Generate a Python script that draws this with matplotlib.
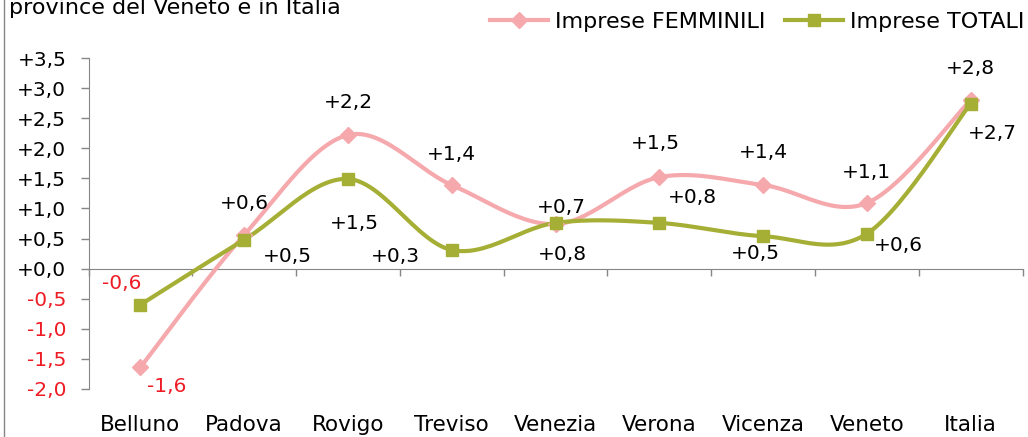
import numpy as np
import matplotlib
matplotlib.use("Agg")
import matplotlib.pyplot as plt
from matplotlib.lines import Line2D
import matplotlib.transforms as mtransforms

# data
categories = ['Belluno', 'Padova', 'Rovigo', 'Treviso', 'Venezia',
              'Verona', 'Vicenza', 'Veneto', 'Italia']
femminili = [-1.64, 0.56, 2.22, 1.39, 0.74, 1.52, 1.39, 1.09, 2.80]
totali = [-0.60, 0.48, 1.49, 0.31, 0.76, 0.76, 0.54, 0.58, 2.74]
yticks = [-2.0, -1.5, -1.0, -0.5, 0.0, 0.5, 1.0, 1.5, 2.0, 2.5, 3.0, 3.5]

COLORS = {
    'fem': '#F5A9AD',
    'tot': '#A6AF35',
    'axis': '#868686',
    'neg': '#EE1C25',
}

# label offsets in pixels (dx, dy; dy positive = up)
fem_offsets = [(26, -19), (0, 31), (0, 33), (0, 30), (6, 17),
               (-4, 34), (0, 32), (0, 31), (0, 32)]
tot_offsets = [(-19, 21), (43, -17), (6, -45), (-56, -7), (7, -32),
               (33, 25), (-8, -17), (32, -12), (22, -30)]

FS = 14.5
plt.rcParams['font.family'] = ['DejaVu Sans']


def smooth(xs, ys, n=30):
    """Excel-like smoothed line (Catmull-Rom as Bezier)."""
    P = np.column_stack([xs, ys]).astype(float)
    ext = np.vstack([P[0], P, P[-1]])
    out = []
    t = np.linspace(0, 1, n)[:, None]
    for i in range(len(P) - 1):
        p0, p3 = ext[i + 1], ext[i + 2]
        c1 = p0 + (ext[i + 2] - ext[i]) / 6
        c2 = p3 - (ext[i + 3] - ext[i + 1]) / 6
        seg = ((1 - t) ** 3) * p0 + 3 * ((1 - t) ** 2) * t * c1 + 3 * (1 - t) * t ** 2 * c2 + t ** 3 * p3
        out.append(seg if i == 0 else seg[1:])
    out = np.vstack(out)
    return out[:, 0], out[:, 1]


def fmt(v):
    return ('%+.1f' % v).replace('.', ',')


fig = plt.figure(figsize=(10.28, 4.37), dpi=100)
W, H = 1028, 437
ax = fig.add_axes([88.5 / W, 1 - 389 / H, (1022.5 - 88.5) / W, (389 - 58) / H])

x = np.arange(len(categories))
for vals, key, marker, ms, offs in [
        (femminili, 'fem', 'D', 8, fem_offsets),
        (totali, 'tot', 's', 9, tot_offsets)]:
    sx, sy = smooth(x, vals)
    ax.plot(sx, sy, color=COLORS[key], lw=3, solid_capstyle='round', zorder=3)
    ax.plot(x, vals, ls='none', marker=marker, ms=ms, color=COLORS[key], zorder=4)
    for xi, v, (dx, dy) in zip(x, vals, offs):
        ax.annotate(fmt(v), (xi, v), xytext=(dx * 0.72, dy * 0.72), textcoords='offset points',
                    ha='center', va='center', fontsize=FS,
                    color=COLORS['neg'] if v < 0 else 'black', zorder=5)

ax.set_xlim(-0.5, len(categories) - 0.5)
ax.set_ylim(-2.0, 3.5)
ax.set_yticks(yticks)
ax.set_yticklabels([fmt(v) for v in yticks], fontsize=FS)
for lab, v in zip(ax.get_yticklabels(), yticks):
    if v < 0:
        lab.set_color(COLORS['neg'])

ax.set_xticks(np.arange(-0.5, len(categories), 1.0))
ax.set_xticklabels([])
ax.tick_params(axis='y', length=6, width=1, color=COLORS['axis'], pad=10)
ax.tick_params(axis='x', length=5, width=1, color=COLORS['axis'])

for s in ['top', 'right']:
    ax.spines[s].set_visible(False)
ax.spines['left'].set_color(COLORS['axis'])
ax.spines['bottom'].set_color(COLORS['axis'])
ax.spines['bottom'].set_position(('data', 0))

trans = mtransforms.blended_transform_factory(ax.transData, ax.transAxes)
for xi, name in zip(x, categories):
    ax.text(xi, -0.109, name, transform=trans, ha='center', va='center', fontsize=15.5)

# title (cut off at the top in the source)
fig.text(9 / W, 1 - 14 / H, 'province del Veneto e in Italia', fontsize=16,
         ha='left', va='baseline')

# left frame border
fig.add_artist(Line2D([4 / W, 4 / W], [0, 1], color=COLORS['axis'], lw=1,
                      transform=fig.transFigure))

handles = [
    Line2D([], [], color=COLORS['fem'], lw=3, marker='D', ms=8, label='Imprese FEMMINILI'),
    Line2D([], [], color=COLORS['tot'], lw=3, marker='s', ms=9, label='Imprese TOTALI'),
]
fig.legend(handles=handles, loc='center right', bbox_to_anchor=(1024 / W, 1 - 22 / H),
           ncol=2, frameon=False, fontsize=16, handlelength=2.6, handletextpad=0.3,
           columnspacing=0.9, borderpad=0, borderaxespad=0)

fig.savefig('out.png', dpi=100)
